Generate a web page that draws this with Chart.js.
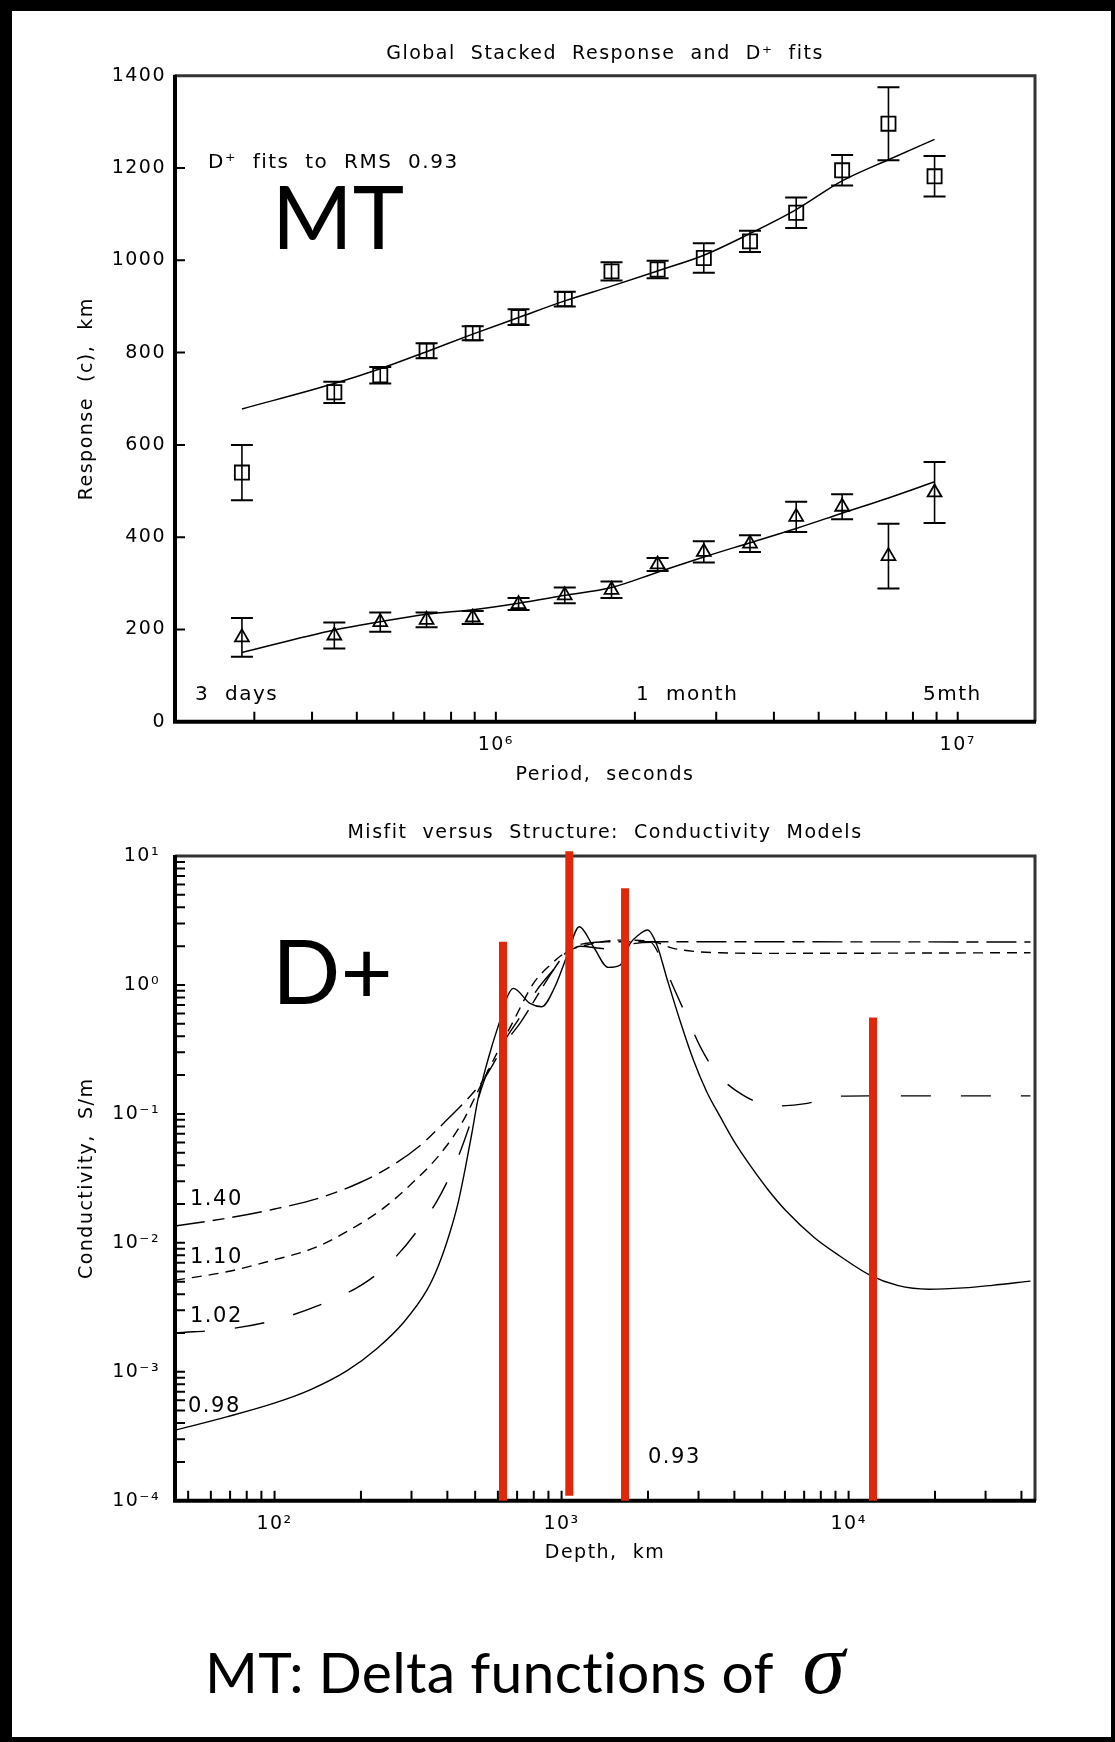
<!DOCTYPE html>
<html lang="en">
<head>
<meta charset="utf-8">
<title>MT: Delta functions of σ</title>
<script src="https://cdn.jsdelivr.net/npm/chart.js"></script>
<style>
  html, body { margin: 0; padding: 0; background: #fff; }
  .page { position: relative; width: 1115px; height: 1742px; background: #fff; overflow: hidden; }
  .page canvas { position: absolute; left: 0; }
  #respChart { top: 0; }
  #condChart { top: 800px; }
  .edge { position: absolute; background: #000; }
  .caption { position: absolute; left: 205px; top: 1641px; margin: 0; font-family: Lato, "Noto Sans", sans-serif; font-size: 57px; line-height: 60px; letter-spacing: 0.3px; white-space: pre; color: #000; }
  .caption i { font-family: "Liberation Serif", serif; font-size: 86px; line-height: 0; }
</style>
</head>
<body>
<div class="page">
  <canvas id="respChart" width="1115" height="800"></canvas>
  <canvas id="condChart" width="1115" height="780"></canvas>
  <p class="caption">MT: Delta functions of  <i>σ</i></p>
  <div class="edge" style="left:0; top:0; width:1115px; height:11px"></div>
  <div class="edge" style="left:0; top:0; width:12px; height:1742px"></div>
  <div class="edge" style="left:0; top:1737px; width:1115px; height:5px"></div>
  <div class="edge" style="left:1111px; top:0; width:4px; height:1742px"></div>
</div>
<script>
Chart.defaults.font.family = "'DejaVu Sans', sans-serif";
Chart.defaults.font.size = 19;
Chart.defaults.color = "#000";

//상단 차트 데이터 (주기, 초)
const periods = [2.82e5, 4.47e5, 5.62e5, 7.08e5, 8.91e5, 1.12e6, 1.41e6, 1.78e6, 2.24e6, 2.82e6, 3.55e6, 4.47e6, 5.62e6, 7.08e6, 8.91e6];
const squareResp = [540, 714, 751, 804, 842, 877, 916, 976, 980, 1005, 1041, 1103, 1195, 1296, 1182];
const squareErr = [60, 23, 18, 16, 15, 17, 16, 20, 19, 32, 23, 33, 33, 79, 44];
const squareFit = [678, 733, 765, 802, 840, 876, 912, 944, 977, 1011, 1058, 1110, 1172, 1218, 1262];
const triResp = [183, 187, 216, 221, 226, 255, 274, 286, 341, 368, 386, 444, 466, 359, 497];
const triErr = [42, 28, 21, 16, 14, 13, 17, 18, 14, 23, 18, 33, 27, 70, 66];
const triFit = [150, 199, 217, 233, 243, 257, 274, 291, 324, 357, 388, 419, 452, 485, 520];
const respTicks = [0, 200, 400, 600, 800, 1000, 1200, 1400];
const periodTicks = [3e5, 4e5, 5e5, 6e5, 7e5, 8e5, 9e5, 1e6, 2e6, 3e6, 4e6, 5e6, 6e6, 7e6, 8e6, 9e6, 1e7];
const periodMajor = [1e6, 1e7];
const periodMajorText = ["10⁶", "10⁷"];

//하단 차트 데이터 (깊이 km, 전도도 S/m)
const depth140 = [45, 68.1, 99.1, 144.5, 199.5, 257, 323.6, 389, 468, 534, 647, 716, 889, 989, 1069, 1225, 1436, 1828, 43000];
const sigma140 = [0.0135, 0.0155, 0.0182, 0.0224, 0.0295, 0.0398, 0.0575, 0.0851, 0.129, 0.183, 0.374, 0.504, 1.091, 1.56, 1.923, 2.104, 2.163, 2.163, 2.153];
const depth110 = [45, 68.1, 99.1, 136, 183, 239, 305, 378, 447, 534, 611, 687, 798, 912, 1042, 1225, 1600, 2089, 2449, 2958, 3565, 5012, 43000];
const sigma110 = [0.00513, 0.00596, 0.00735, 0.00904, 0.0126, 0.0185, 0.0297, 0.049, 0.0832, 0.183, 0.332, 0.55, 1.028, 1.426, 1.811, 2.042, 2.228, 2.163, 1.923, 1.811, 1.778, 1.758, 1.778];
const depth102 = [45, 70.8, 100, 141, 200, 251, 316, 380, 437, 490, 534, 575, 646, 716, 820, 935, 1042, 1159, 1436, 1778, 2042, 2203, 2449, 2729, 3041, 3475, 4285, 5470, 7079, 9162, 11700, 19950, 43000];
const sigma102 = [0.002, 0.00216, 0.00251, 0.00324, 0.00468, 0.00692, 0.0126, 0.024, 0.0468, 0.0955, 0.174, 0.263, 0.398, 0.562, 0.912, 1.306, 1.738, 1.995, 1.905, 2.089, 2.138, 1.656, 0.968, 0.566, 0.332, 0.206, 0.14, 0.115, 0.12, 0.137, 0.138, 0.138, 0.138];
const depth098 = [45, 68.1, 99.1, 133, 179, 227, 281, 339, 372, 407, 437, 462, 486, 510, 534, 571, 611, 647, 679, 776, 853, 948, 1042, 1153, 1291, 1455, 1600, 1734, 1854, 1995, 2148, 2328, 2588, 2877, 3206, 3565, 3981, 4539, 5248, 6039, 7586, 9290, 11860, 14790, 19010, 25120, 31620, 43000];
const sigma098 = [3.52e-4, 4.47e-4, 5.68e-4, 7.24e-4, 1.02e-3, 1.51e-3, 2.4e-3, 4.27e-3, 6.61e-3, 0.01175, 0.0209, 0.038, 0.0692, 0.1259, 0.194, 0.332, 0.535, 0.809, 0.94, 0.719, 0.678, 0.968, 1.656, 2.83, 1.977, 1.368, 1.426, 2.1, 2.44, 2.67, 2.04, 1.122, 0.525, 0.263, 0.148, 0.0955, 0.0617, 0.0398, 0.0257, 0.0178, 0.011, 0.00794, 0.00562, 0.00468, 0.00437, 0.00447, 0.00468, 0.00505];
const deltaDepth = [625, 1064, 1664, 12160];
const deltaSigma = [2.16, 10.9, 5.62, 0.56];
const deltaBase = [1e-4, 1.09e-4, 1e-4, 1e-4];
const depthTicks = [50, 60, 70, 80, 90, 100, 200, 300, 400, 500, 600, 700, 800, 900, 1000, 2000, 3000, 4000, 5000, 6000, 7000, 8000, 9000, 10000, 20000, 30000, 40000];
const depthMajor = [100, 1000, 10000];
const depthMajorText = ["10²", "10³", "10⁴"];
const condTicks = [1e-4, 2e-4, 3e-4, 4e-4, 5e-4, 6e-4, 7e-4, 8e-4, 9e-4, 1e-3, 2e-3, 3e-3, 4e-3, 5e-3, 6e-3, 7e-3, 8e-3, 9e-3, 0.01, 0.02, 0.03, 0.04, 0.05, 0.06, 0.07, 0.08, 0.09, 0.1, 0.2, 0.3, 0.4, 0.5, 0.6, 0.7, 0.8, 0.9, 1, 2, 3, 4, 5, 6, 7, 8, 9, 10];
const condMajor = [1e-4, 1e-3, 1e-2, 1e-1, 1, 10];
const condMajorText = ["10⁻⁴", "10⁻³", "10⁻²", "10⁻¹", "10⁰", "10¹"];

function pts(xs, ys) {
  return xs.map(function (x, i) { return { x: x, y: ys[i] }; });
}

function majorLabel(majors, texts) {
  return function (value) {
    const i = majors.indexOf(value);
    return i >= 0 ? texts[i] : "";
  };
}

// 글자 간격 (플롯 글꼴이 넓음)
const spacing = {
  id: "spacing",
  beforeDraw(chart) { chart.ctx.letterSpacing = "1.5px"; },
};

// 테두리와 안쪽 눈금
const boxTicks = {
  id: "boxTicks",
  beforeDatasetsDraw(chart) {
    const ctx = chart.ctx;
    const a = chart.chartArea;
    const sx = chart.scales.x, sy = chart.scales.y;
    ctx.save();
    ctx.strokeStyle = "#000";
    ctx.lineWidth = 2;
    ctx.beginPath();
    sx.ticks.forEach(function (t) {
      const p = sx.getPixelForValue(t.value);
      if (p <= a.left + 2 || p >= a.right - 2) return;
      ctx.moveTo(p, a.bottom);
      ctx.lineTo(p, a.bottom - 10);
    });
    sy.ticks.forEach(function (t) {
      const p = sy.getPixelForValue(t.value);
      if (p <= a.top + 2 || p >= a.bottom - 2) return;
      ctx.moveTo(a.left, p);
      ctx.lineTo(a.left + 10, p);
    });
    ctx.stroke();
    ctx.strokeStyle = "#333";
    ctx.lineWidth = 3;
    ctx.beginPath();
    ctx.moveTo(a.left, a.top);
    ctx.lineTo(a.right, a.top);
    ctx.lineTo(a.right, a.bottom);
    ctx.stroke();
    ctx.strokeStyle = "#000";
    ctx.lineWidth = 4;
    ctx.beginPath();
    ctx.moveTo(a.left, a.top - 1);
    ctx.lineTo(a.left, a.bottom);
    ctx.lineTo(a.right + 1, a.bottom);
    ctx.stroke();
    ctx.restore();
  },
};

// 오차 막대
const errorBars = {
  id: "errorBars",
  afterDatasetsDraw(chart) {
    const ctx = chart.ctx;
    const sx = chart.scales.x, sy = chart.scales.y;
    ctx.save();
    ctx.strokeStyle = "#000";
    chart.data.datasets.forEach(function (ds) {
      if (!ds.errors) return;
      ds.data.forEach(function (p, j) {
        const px = sx.getPixelForValue(p.x);
        const top = sy.getPixelForValue(p.y + ds.errors[j]);
        const bot = sy.getPixelForValue(p.y - ds.errors[j]);
        ctx.lineWidth = 1.6;
        ctx.beginPath();
        ctx.moveTo(px, top);
        ctx.lineTo(px, bot);
        ctx.stroke();
        ctx.lineWidth = 2;
        ctx.beginPath();
        ctx.moveTo(px - 11, top);
        ctx.lineTo(px + 11, top);
        ctx.moveTo(px - 11, bot);
        ctx.lineTo(px + 11, bot);
        ctx.stroke();
      });
    });
    ctx.restore();
  },
};

// 차트 안 글자
function notes(items) {
  return {
    id: "notes",
    afterDraw(chart) {
      const ctx = chart.ctx;
      ctx.save();
      ctx.fillStyle = "#000";
      ctx.textAlign = "left";
      ctx.textBaseline = "alphabetic";
      items.forEach(function (n) {
        ctx.font = n.font;
        ctx.letterSpacing = n.big ? "0px" : "1.5px";
        ctx.fillText(n.text, n.x, n.y);
      });
      ctx.restore();
    },
  };
}

function logAxis(min, max, tickVals, majors, texts, height, title, titleBottom) {
  return {
    type: "logarithmic",
    min: min,
    max: max,
    afterBuildTicks: function (s) { s.ticks = tickVals.map(function (v) { return { value: v }; }); },
    afterFit: function (s) { s.height = height; },
    grid: { display: false, drawTicks: false },
    border: { display: false },
    ticks: { autoSkip: false, maxRotation: 0, minRotation: 0, padding: 11.5, callback: majorLabel(majors, texts) },
    title: { display: true, text: title, padding: { top: 0, bottom: titleBottom } },
  };
}

//차트1: 응답
new Chart(document.getElementById("respChart"), {
  type: "line",
  data: {
    datasets: [
      {
        data: pts(periods, squareResp),
        errors: squareErr,
        showLine: false,
        pointStyle: "rect",
        pointRadius: 10,
        pointBorderWidth: 1.8,
        pointBorderColor: "#000",
        pointBackgroundColor: "rgba(0,0,0,0)",
      },
      {
        data: pts(periods, triResp),
        errors: triErr,
        showLine: false,
        pointStyle: "triangle",
        pointRadius: 8,
        pointBorderWidth: 1.8,
        pointBorderColor: "#000",
        pointBackgroundColor: "rgba(0,0,0,0)",
      },
      { data: pts(periods, squareFit), borderColor: "#000", borderWidth: 1.5, pointRadius: 0, cubicInterpolationMode: "monotone" },
      { data: pts(periods, triFit), borderColor: "#000", borderWidth: 1.5, pointRadius: 0, cubicInterpolationMode: "monotone" },
    ],
  },
  options: {
    responsive: false,
    animation: false,
    events: [],
    layout: { padding: { left: 0, right: 80, top: 0, bottom: 0 } },
    plugins: {
      legend: { display: false },
      tooltip: { enabled: false },
      title: {
        display: true,
        fullSize: false,
        text: "Global  Stacked  Response  and  D⁺  fits",
        font: { size: 19, weight: "normal" },
        padding: { top: 43, bottom: 9.9 },
      },
    },
    scales: {
      x: logAxis(2.02e5, 1.47e7, periodTicks, periodMajor, periodMajorText, 78.2, "Period,  seconds", 13.6),
      y: {
        type: "linear",
        min: 0,
        max: 1400,
        afterBuildTicks: function (s) { s.ticks = respTicks.map(function (v) { return { value: v }; }); },
        afterFit: function (s) { s.width = 175; },
        grid: { display: false, drawTicks: false },
        border: { display: false },
        ticks: { padding: 9, callback: function (v) { return String(v); } },
        title: { display: true, text: "Response  (c),  km", padding: { top: 75.6, bottom: 0 } },
      },
    },
  },
  plugins: [
    spacing,
    boxTicks,
    errorBars,
    notes([
      { text: "D⁺  fits  to  RMS  0.93", x: 208, y: 168, font: "20px 'DejaVu Sans'" },
      { text: "MT", x: 272, y: 249, font: "87px Lato", big: true },
      { text: "3  days", x: 195, y: 700, font: "20px 'DejaVu Sans'" },
      { text: "1  month", x: 636, y: 700, font: "20px 'DejaVu Sans'" },
      { text: "5mth", x: 923, y: 700, font: "20px 'DejaVu Sans'" },
    ]),
  ],
});

//차트2: 전도도 모델
const deltaSets = deltaDepth.map(function (d, i) {
  return {
    data: [{ x: d, y: deltaBase[i] }, { x: d, y: deltaSigma[i] }],
    borderColor: "#e1270a",
    borderWidth: 8,
    borderCapStyle: "butt",
    pointRadius: 0,
    clip: false,
  };
});

function model(depths, sigmas, dash) {
  return {
    data: pts(depths, sigmas),
    borderColor: "#000",
    borderWidth: 1.4,
    borderDash: dash,
    pointRadius: 0,
    cubicInterpolationMode: "monotone",
  };
}

new Chart(document.getElementById("condChart"), {
  type: "line",
  data: {
    datasets: deltaSets.concat([
      model(depth140, sigma140, [30, 8, 12, 8]),
      model(depth110, sigma110, [10, 7]),
      model(depth102, sigma102, [30, 30]),
      model(depth098, sigma098, []),
    ]),
  },
  options: {
    responsive: false,
    animation: false,
    events: [],
    layout: { padding: { left: 0, right: 80, top: 0, bottom: 0 } },
    plugins: {
      legend: { display: false },
      tooltip: { enabled: false },
      title: {
        display: true,
        fullSize: false,
        text: "Misfit  versus  Structure:  Conductivity  Models",
        font: { size: 19, weight: "normal" },
        padding: { top: 21.6, bottom: 11.6 },
      },
    },
    scales: {
      x: logAxis(45, 44600, depthTicks, depthMajor, depthMajorText, 79.3, "Depth,  km", 15.6),
      y: {
        type: "logarithmic",
        min: 1e-4,
        max: 10,
        afterBuildTicks: function (s) { s.ticks = condTicks.map(function (v) { return { value: v }; }); },
        afterFit: function (s) { s.width = 175; },
        grid: { display: false, drawTicks: false },
        border: { display: false },
        ticks: { autoSkip: false, padding: 15, callback: majorLabel(condMajor, condMajorText) },
        title: { display: true, text: "Conductivity,  S/m", padding: { top: 75.6, bottom: 0 } },
      },
    },
  },
  plugins: [
    spacing,
    boxTicks,
    notes([
      { text: "D+", x: 272, y: 204, font: "90px Lato", big: true },
      { text: "1.40", x: 190, y: 405, font: "21px 'DejaVu Sans'" },
      { text: "1.10", x: 190, y: 463, font: "21px 'DejaVu Sans'" },
      { text: "1.02", x: 190, y: 522, font: "21px 'DejaVu Sans'" },
      { text: "0.98", x: 188, y: 612, font: "21px 'DejaVu Sans'" },
      { text: "0.93", x: 648, y: 663, font: "21px 'DejaVu Sans'" },
    ]),
  ],
});
</script>
</body>
</html>
